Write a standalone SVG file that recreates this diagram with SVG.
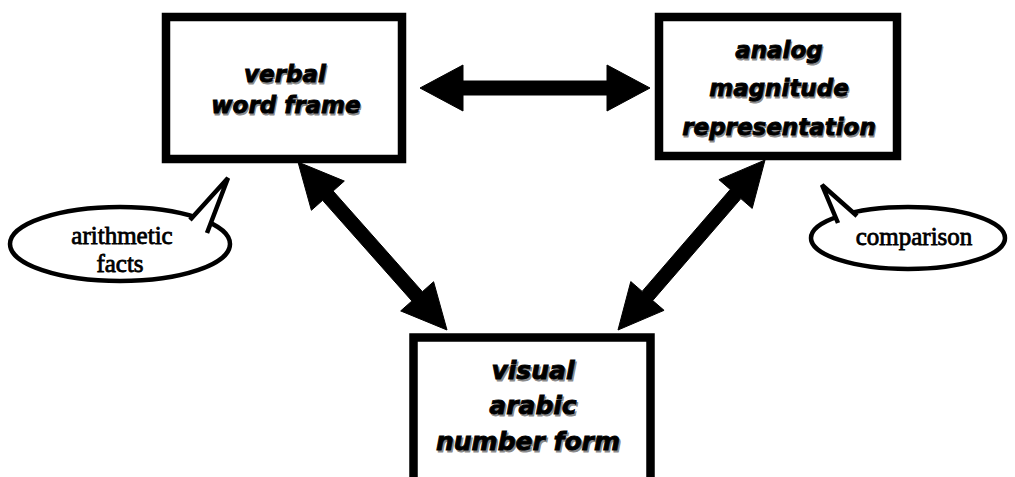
<svg xmlns="http://www.w3.org/2000/svg" width="1015" height="477" viewBox="0 0 1015 477">
<style>
.box{fill:#fff;stroke:#000;stroke-width:8.5}
.lbl{font-family:"DejaVu Sans",sans-serif;font-weight:bold;font-style:oblique;font-size:23px;text-anchor:middle;fill:#000;stroke:#000;stroke-width:0.9}
.sh{fill:#8a8a8a;stroke:#8a8a8a}
.big{font-size:25px}
.bub{fill:#fff;stroke:#000;stroke-width:4.5}
.tailfill{fill:#fff;stroke:none}
.tail{fill:none;stroke:#000;stroke-width:4.5;stroke-linejoin:miter}
.ser{font-family:"Liberation Serif",serif;font-size:25px;text-anchor:middle;fill:#000;stroke:#000;stroke-width:0.8}
.arr{fill:#000;stroke:#000;stroke-width:1;stroke-linejoin:miter}
</style>
<rect width="1015" height="477" fill="#fff"/>
<g id="connectors">
<polygon class="arr" points="420,88 463,65 463,81 607,81 607,65 650,88 607,111 607,95 463,95 463,111"/>
<polygon class="arr" points="298,162 344.32,181.07 333.10,191.02 422.38,291.68 433.60,281.73 447,330 400.68,310.93 411.90,300.98 322.62,200.32 311.40,210.27"/>
<polygon class="arr" points="765,160 718.93,179.65 730.28,189.46 642.14,291.38 630.79,281.57 618,330 664.07,310.35 652.72,300.54 740.86,198.62 752.21,208.43"/>
</g>
<g id="verbal">
<rect class="box" x="166" y="17" width="236" height="142"/>
<text class="lbl sh" x="286" y="83.5">verbal</text>
<text class="lbl sh" x="287" y="114.5">word frame</text>
<text class="lbl" x="285" y="82">verbal</text>
<text class="lbl" x="286" y="113">word frame</text>
</g>
<g id="analog">
<rect class="box" x="659" y="17" width="238" height="139"/>
<text class="lbl sh" x="780" y="59.5">analog</text>
<text class="lbl sh" x="780" y="97.5">magnitude</text>
<text class="lbl sh" x="780" y="136.5">representation</text>
<text class="lbl" x="779" y="58">analog</text>
<text class="lbl" x="779" y="96">magnitude</text>
<text class="lbl" x="779" y="135">representation</text>
</g>
<g id="visual">
<rect class="box" x="413.5" y="337.5" width="237" height="160"/>
<text class="lbl big sh" x="534.5" y="380.5">visual</text>
<text class="lbl big sh" x="534.5" y="415.5">arabic</text>
<text class="lbl big sh" x="529.5" y="451.5">number form</text>
<text class="lbl big" x="533" y="379">visual</text>
<text class="lbl big" x="533" y="414">arabic</text>
<text class="lbl big" x="528" y="450">number form</text>
</g>
<g id="arithmetic">
<ellipse class="bub" cx="120" cy="244" rx="110" ry="37"/>
<polygon class="tailfill" points="190,222 228,178 207,234"/>
<polyline class="tail" points="190,220 228,178 207,233"/>
<text class="ser" x="122" y="244">arithmetic</text>
<text class="ser" x="120" y="272">facts</text>
</g>
<g id="comparison">
<ellipse class="bub" cx="908" cy="238" rx="97" ry="31"/>
<polygon class="tailfill" points="840,225 822,185 859,219"/>
<polyline class="tail" points="838,223 822,185 857,216"/>
<text class="ser" x="914" y="245">comparison</text>
</g>
</svg>
